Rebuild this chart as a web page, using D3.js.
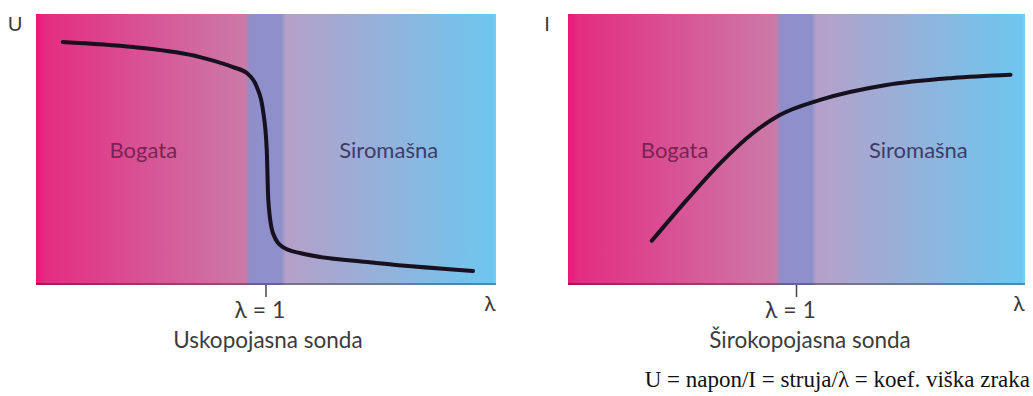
<!DOCTYPE html>
<html>
<head>
<meta charset="utf-8">
<script src="https://cdn.jsdelivr.net/npm/d3@7"></script>
<style>
  body { margin: 0; background: #fff; }
  svg { display: block; }
  .zone { font-family: Lato, "Open Sans", sans-serif; font-size: 22px; }
  .lbl { font-family: Lato, "Open Sans", sans-serif; fill: #3c3c3c; }
  .caption { font-family: "Liberation Serif", "DejaVu Serif", serif; font-size: 23px; fill: #111; }
</style>
</head>
<body>
<div id="chart"></div>
<script>
// lambda (air excess ratio) domain and lambda = 1 mark
var lambdaDomain = [0.7, 1.3];
var lambdaTicks = [1];
var bandEdges = [0.978, 1.021];

// zone names
var zoneNames = ["Bogata", "Siromašna"];
var zoneLambda = [0.84, 1.16];

// narrow band probe: voltage U vs lambda
var narrowLambda = [0.735, 0.827, 0.914, 0.957, 0.975, 0.988, 0.996, 1.001, 1.003, 1.009, 1.022, 1.044, 1.132, 1.270];
var narrowU      = [0.897, 0.878, 0.841, 0.804, 0.782, 0.731, 0.646, 0.498, 0.314, 0.192, 0.140, 0.118, 0.085, 0.052];

// wide band probe: current I vs lambda
var wideLambda = [0.810, 0.856, 0.900, 0.943, 0.978, 1.031, 1.118, 1.205, 1.281];
var wideI      = [0.163, 0.314, 0.450, 0.561, 0.627, 0.683, 0.738, 0.764, 0.776];

var panels = [
  { id: "n", left: 36, right: 496, yLabel: "U", title: "Uskopojasna sonda", xs: narrowLambda, ys: narrowU, titleX: 268 },
  { id: "w", left: 568, right: 1025, yLabel: "I", title: "Širokopojasna sonda", xs: wideLambda, ys: wideI, titleX: 810 }
];

var width = 1033, height = 396;
var plotTop = 14, plotBottom = 285;

var svg = d3.select("#chart").append("svg")
    .attr("width", width)
    .attr("height", height);

var defs = svg.append("defs");

var yScale = d3.scaleLinear().domain([0, 1]).range([plotBottom, plotTop]);

panels.forEach(function(p) {
  var xScale = d3.scaleLinear().domain(lambdaDomain).range([p.left, p.right]);

  // background gradient: rich -> band -> lean
  var b0 = xScale(bandEdges[0]), b1 = xScale(bandEdges[1]);
  var grad = defs.append("linearGradient")
      .attr("id", "bg" + p.id)
      .attr("gradientUnits", "userSpaceOnUse")
      .attr("x1", p.left).attr("x2", p.right)
      .attr("y1", 0).attr("y2", 0);
  var w = p.right - p.left;
  var stops = [
    [p.left, "#ee1677"],
    [p.left + 10, "#e42d82"],
    [b0 - 4, "#cb7aa8"],
    [b0 + 1, "#8f8ecb"],
    [b1 - 1, "#8e90cb"],
    [b1 + 4, "#b5a0c9"],
    [p.right - 4, "#6ec6ee"],
    [p.right, "#7cccf0"]
  ];
  stops.forEach(function(s) {
    grad.append("stop")
        .attr("offset", (s[0] - p.left) / w)
        .attr("stop-color", s[1]);
  });

  var g = svg.append("g");

  g.append("rect")
      .attr("x", p.left).attr("y", plotTop)
      .attr("width", w).attr("height", plotBottom - plotTop)
      .attr("fill", "url(#bg" + p.id + ")");

  // darker bottom edge
  g.append("rect")
      .attr("x", p.left).attr("y", plotBottom - 2)
      .attr("width", w).attr("height", 2)
      .attr("fill", "#000").attr("opacity", 0.3);

  // zone labels
  g.append("text").attr("class", "zone")
      .attr("x", xScale(zoneLambda[0])).attr("y", yScale(0.5) + 8)
      .attr("text-anchor", "middle")
      .attr("fill", "#7c2356")
      .text(zoneNames[0]);
  g.append("text").attr("class", "zone")
      .attr("x", xScale(zoneLambda[1])).attr("y", yScale(0.5) + 8)
      .attr("text-anchor", "middle")
      .attr("fill", "#3e3b68")
      .text(zoneNames[1]);

  // curve
  var line = d3.line()
      .x(function(d, i) { return xScale(p.xs[i]); })
      .y(function(d, i) { return yScale(p.ys[i]); })
      .curve(d3.curveMonotoneX);
  g.append("path")
      .attr("d", line(p.xs))
      .attr("fill", "none")
      .attr("stroke", "#17101f")
      .attr("stroke-width", 4)
      .attr("stroke-linecap", "round");

  // lambda = 1 tick
  lambdaTicks.forEach(function(t) {
    g.append("line")
        .attr("x1", xScale(t)).attr("x2", xScale(t))
        .attr("y1", plotBottom).attr("y2", plotBottom + 12)
        .attr("stroke", "#444").attr("stroke-width", 1.5);
    g.append("text").attr("class", "lbl")
        .attr("x", xScale(t) - 6).attr("y", plotBottom + 33)
        .attr("text-anchor", "middle")
        .attr("font-size", 23)
        .text("λ = " + t);
  });

  // axis letters
  g.append("text").attr("class", "lbl")
      .attr("x", p.right - 6).attr("y", plotBottom + 26)
      .attr("text-anchor", "middle")
      .attr("font-size", 21)
      .text("λ");
  g.append("text").attr("class", "lbl")
      .attr("x", p.left - 21).attr("y", plotTop + 17)
      .attr("text-anchor", "middle")
      .attr("font-size", 20)
      .attr("fill", "#666")
      .text(p.yLabel);

  // panel title
  g.append("text").attr("class", "lbl")
      .attr("x", p.titleX).attr("y", plotBottom + 63)
      .attr("text-anchor", "middle")
      .attr("font-size", 22.5)
      .text(p.title);
});

svg.append("text").attr("class", "caption")
    .attr("x", 1030).attr("y", 387)
    .attr("text-anchor", "end")
    .text("U = napon/I = struja/λ = koef. viška zraka");
</script>
</body>
</html>
